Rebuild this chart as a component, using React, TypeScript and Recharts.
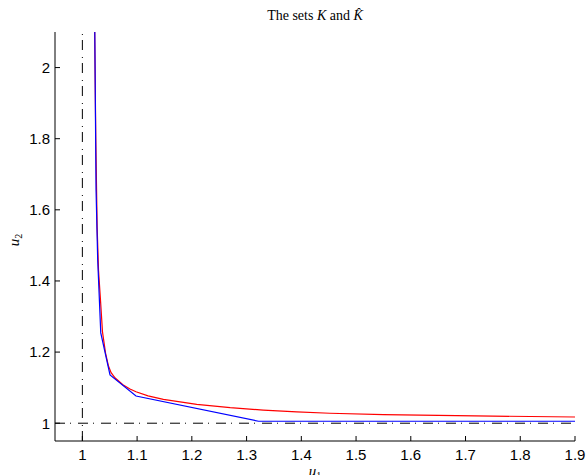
import { LineChart, Line, XAxis, YAxis, ReferenceLine } from 'recharts';

// curve K (red)
const redU1 = [1.0225, 1.0245, 1.027, 1.0295, 1.0331, 1.0368, 1.0425, 1.0475, 1.0525, 1.06, 1.074, 1.087, 1.098, 1.12, 1.148, 1.209, 1.27, 1.3305, 1.3916, 1.452, 1.55, 1.65, 1.75, 1.9];
const redU2 = [2.1, 1.8, 1.55, 1.43, 1.346, 1.256, 1.196, 1.162, 1.142, 1.127, 1.108, 1.096, 1.0885, 1.077, 1.067, 1.053, 1.0436, 1.037, 1.032, 1.028, 1.024, 1.022, 1.02, 1.0175];

// piecewise linear K-hat (blue)
const blueU1 = [1.0227, 1.025, 1.028, 1.0336, 1.0505, 1.098, 1.322, 1.9];
const blueU2 = [2.1, 1.656, 1.46, 1.254, 1.1356, 1.0765, 1.0055, 1.0055];

const xTicks = [1, 1.1, 1.2, 1.3, 1.4, 1.5, 1.6, 1.7, 1.8, 1.9];
const yTicks = [1, 1.2, 1.4, 1.6, 1.8, 2];

const redData = redU1.map((u1, i) => ({ u1, u2: redU2[i] }));
const blueData = blueU1.map((u1, i) => ({ u1, u2: blueU2[i] }));

const tickStyle = { fontFamily: 'Liberation Sans, Arial, sans-serif', fontSize: 15, fill: '#000' };
const dashDot = '10 5 1 7';

export default function App() {
  return (
    <div style={{ position: 'absolute', left: 0, top: 0, background: '#fff' }}>
      <LineChart width={587} height={475} margin={{ top: 32, right: 12, left: 0, bottom: 0 }}>
        <XAxis
          type="number"
          dataKey="u1"
          domain={[0.95, 1.9]}
          ticks={xTicks}
          allowDataOverflow
          height={34}
          tickSize={-5}
          tickMargin={13}
          tick={tickStyle}
          stroke="#000"
          tickFormatter={(v) => String(v)}
        />
        <YAxis
          type="number"
          dataKey="u2"
          domain={[0.95, 2.1]}
          ticks={yTicks}
          allowDataOverflow
          width={55}
          tickSize={-5}
          tickMargin={10}
          tick={tickStyle}
          stroke="#000"
          tickFormatter={(v) => String(v)}
        />
        <ReferenceLine x={1} stroke="#000" strokeDasharray={dashDot} />
        <ReferenceLine y={1} stroke="#000" strokeDasharray={dashDot} />
        <Line data={redData} dataKey="u2" type="linear" stroke="#ff0000" strokeWidth={1.2} dot={false} isAnimationActive={false} />
        <Line data={blueData} dataKey="u2" type="linear" stroke="#0000ff" strokeWidth={1.2} dot={false} isAnimationActive={false} />
        <text x={315} y={20} textAnchor="middle" fontFamily="Liberation Serif, serif" fontSize={14} fill="#000">
          The sets <tspan fontStyle="italic">K</tspan> and <tspan fontStyle="italic">K̂</tspan>
        </text>
        <text x={315} y={476} textAnchor="middle" fontFamily="Liberation Serif, serif" fontSize={15} fill="#000">
          <tspan fontStyle="italic">u</tspan>
          <tspan fontSize={10} dy={3}>1</tspan>
        </text>
        <text x={0} y={0} transform="translate(19,240) rotate(-90)" textAnchor="middle" fontFamily="Liberation Serif, serif" fontSize={15} fill="#000">
          <tspan fontStyle="italic">u</tspan>
          <tspan fontSize={10} dy={3}>2</tspan>
        </text>
      </LineChart>
    </div>
  );
}
